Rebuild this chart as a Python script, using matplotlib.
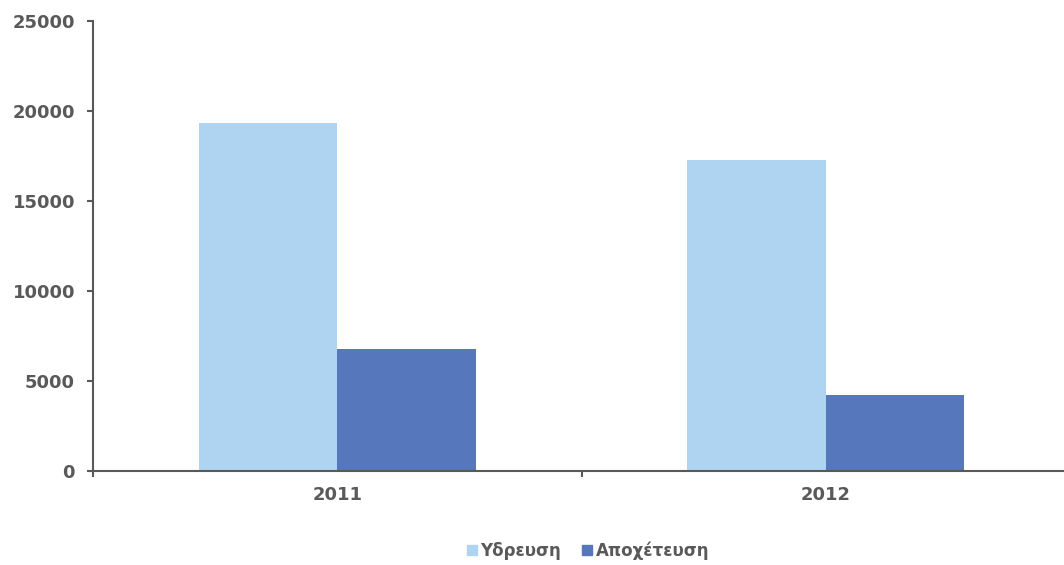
import matplotlib
matplotlib.use("Agg")
import matplotlib.pyplot as plt
from matplotlib.lines import Line2D
import numpy as np

categories = ["2011", "2012"]
series_names = ["Υδρευση", "Αποχέτευση"]
ydreusi = [19320, 17280]
apoxeteusi = [6760, 4220]
colors = ["#AED4F1", "#5677BC"]
yticks = [0, 5000, 10000, 15000, 20000, 25000]

gray = "#595959"
plt.rcParams['font.family'] = ['DejaVu Sans']

fig = plt.figure(figsize=(10.64, 5.65), dpi=100)
W, H = 1064, 565
ax = fig.add_axes([93 / W, 94 / H, 977 / W, 450 / H])

x = np.arange(len(categories))
bw = 0.284
ax.bar(x - bw / 2, ydreusi, width=bw, color=colors[0], label=series_names[0])
ax.bar(x + bw / 2, apoxeteusi, width=bw, color=colors[1], label=series_names[1])

ax.set_xlim(-0.5, len(categories) - 0.5)
ax.set_ylim(0, 25000)
ax.set_yticks(yticks)
ax.set_yticklabels([str(v) for v in yticks])
ax.set_xticks(x)
ax.set_xticklabels(categories)
ax.set_xticks(np.arange(len(categories) + 1) - 0.5, minor=True)

for s in ["top", "right"]:
    ax.spines[s].set_visible(False)
for s in ["left", "bottom"]:
    ax.spines[s].set_color(gray)
    ax.spines[s].set_linewidth(1.5)

ax.tick_params(axis="y", length=4, width=1.5, color=gray, pad=9,
               labelsize=13, labelcolor=gray)
ax.tick_params(axis="x", which="major", length=0, pad=11,
               labelsize=13, labelcolor=gray)
ax.tick_params(axis="x", which="minor", length=4.5, width=1.5, color=gray)
for lbl in ax.get_yticklabels() + ax.get_xticklabels():
    lbl.set_fontweight("bold")

handles = [Line2D([], [], marker="s", linestyle="none", markersize=7,
                  markerfacecolor=c, markeredgecolor=c) for c in colors]
leg = fig.legend(handles, series_names, loc="center",
                 bbox_to_anchor=(588 / W, 1 - 551 / H), ncol=2, frameon=False,
                 handlelength=0.6, handletextpad=0.2, columnspacing=1.3,
                 prop={"size": 12, "weight": "bold"})
for t in leg.get_texts():
    t.set_color(gray)

fig.savefig("out.png", dpi=100)
